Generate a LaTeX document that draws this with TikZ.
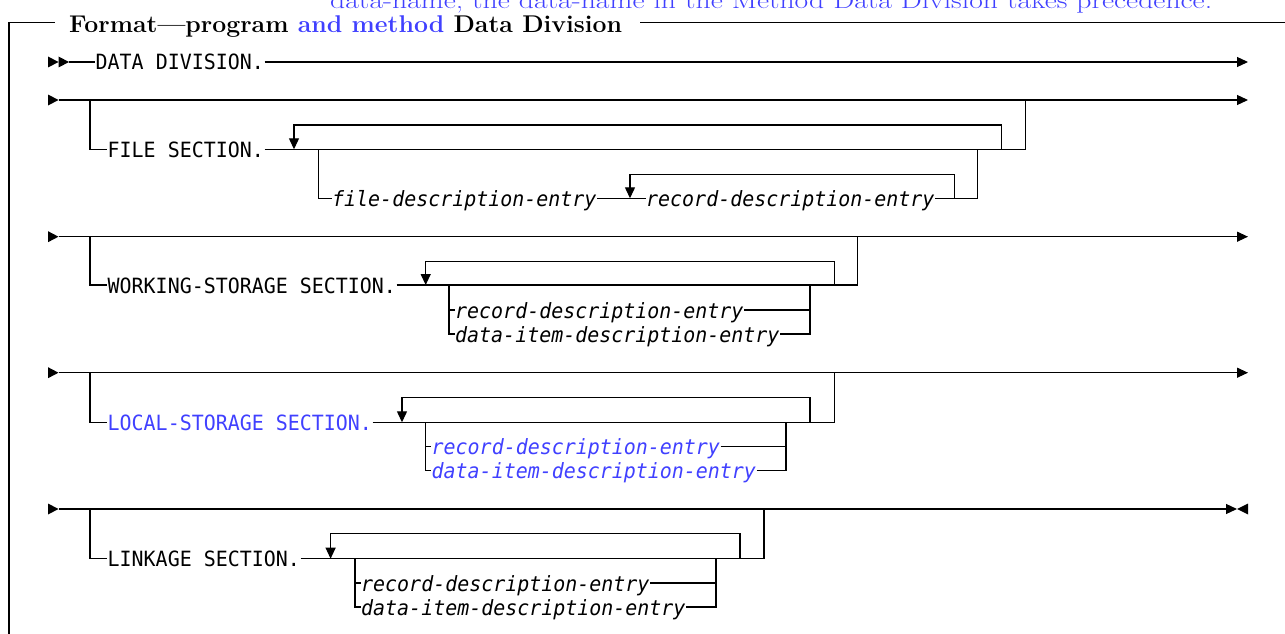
\documentclass[tikz,border=0pt]{standalone}
\usepackage{fontspec}
\usepackage{graphicx}
\newfontfamily\cmono[FakeStretch=0.95]{DejaVu Sans Mono}
\usetikzlibrary{arrows.meta}
\definecolor{ibmblue}{RGB}{64,64,255}
\tikzset{
  rail/.style={line width=1.2pt, line join=miter},
  arr/.style={rail, -{Triangle[length=11pt,width=10pt]}},
  darr/.style={rail, -{Triangle[length=11pt,width=10pt]}},
  kw/.style={font=\cmono\fontsize{21}{25}\selectfont, inner xsep=0.5pt, inner ysep=0pt,
             text height=16pt, text depth=0pt, anchor=west},
  var/.style={kw, font=\cmono\itshape\fontsize{21}{25}\selectfont},
  blue/.style={text=ibmblue},
  frame/.style={line width=1.5pt},
  tri/.pic={\fill (0,-5.5) -- (10.5,0) -- (0,5.5) -- cycle;},
  ltri/.pic={\fill (0,-5.5) -- (-11,0) -- (0,5.5) -- cycle;},
}
\begin{document}
\begin{tikzpicture}[x=1pt,y=-1pt]
\useasboundingbox (0,0) rectangle (1285,634);
\begin{scope}
  \clip (0,0) rectangle (1285,634);
  \node[anchor=base west, inner sep=0, font=\fontsize{24}{28}\selectfont, text=ibmblue] (prev) at (330,8.5)
    {\resizebox{882pt}{\height}{data-name, the data-name in the Method Data Division takes precedence.}};
\end{scope}
% title and frame
\node[anchor=base west, inner sep=0, font=\bfseries\fontsize{24.2}{28}\selectfont] (ttl) at (69,32.5)
  {\resizebox{553pt}{\height}{Format—program \textcolor{ibmblue}{and method} Data Division}};
\coordinate (fbl) at (9,636);
\coordinate (ftl) at (9,22.7);
\coordinate (fa) at (55,22.7);
\coordinate (fb) at (640,22.7);
\coordinate (fr) at (1286,22.7);
\draw[frame] (fbl) -- (ftl) -- (fa);
\draw[frame] (fb) -- (fr);
% ---------- row 1
\pic at (48,62) {tri};
\pic at (58.5,62) {tri};
\coordinate (r1a) at (69,62);
\coordinate (r1z) at (1248,62);
\node[kw] (dd) at (95,62) {DATA DIVISION.};
\draw[rail] (r1a) -- (dd.west);
\draw[arr] (dd.east) -- (r1z);
% ---------- row 2 : FILE SECTION
\pic at (48,100) {tri};
\coordinate (r2a) at (59,100);
\coordinate (r2b) at (90,100);
\coordinate (r2c) at (1025.8,100);
\coordinate (r2z) at (1248,100);
\draw[arr] (r2a) -- (r2z);
\node[kw] (fs) at (107,149.3) {FILE SECTION.};
\draw[rail] (r2b) |- (fs.west);
\coordinate (f2a) at (294,149.3);
\coordinate (f2t) at (294,125);
\coordinate (f2b) at (318.4,149.3);
\coordinate (f2c) at (977.7,149.3);
\coordinate (f2d) at (1001.7,149.3);
\coordinate (f2e) at (1025.8,149.3);
\draw[rail] (fs.east) -- (f2e) -- (r2c);
\draw[darr] (f2d) |- (f2t) -- (f2a);
\node[var] (fde) at (331.5,198.3) {file-description-entry};
\node[var] (rde) at (645.5,198.3) {record-description-entry};
\coordinate (g2a) at (630,198.3);
\coordinate (g2t) at (630,174.3);
\coordinate (g2r) at (954.6,198.3);
\draw[rail] (f2b) |- (fde.west);
\draw[rail] (fde.east) -- (rde.west);
\draw[rail] (rde.east) -| (f2c);
\draw[darr] (g2r) |- (g2t) -- (g2a);
% ---------- row 3 : WORKING-STORAGE
\pic at (48,236.7) {tri};
\coordinate (r3a) at (59,236.7);
\coordinate (r3b) at (90,236.7);
\coordinate (r3c) at (857.7,236.7);
\coordinate (r3z) at (1248,236.7);
\draw[arr] (r3a) -- (r3z);
\node[kw] (ws) at (107,285) {WORKING-STORAGE SECTION.};
\draw[rail] (r3b) |- (ws.west);
\coordinate (w3a) at (425.7,285);
\coordinate (w3t) at (425.7,261.7);
\coordinate (w3b) at (449,285);
\coordinate (w3c) at (810,285);
\coordinate (w3d) at (834.3,285);
\coordinate (w3e) at (857.7,285);
\draw[rail] (ws.east) -- (w3e) -- (r3c);
\draw[darr] (w3d) |- (w3t) -- (w3a);
\node[var] (wr) at (454.5,310) {record-description-entry};
\node[var] (wd) at (454.5,334) {data-item-description-entry};
\draw[rail] (w3b) |- (wd.west);
\draw[rail] (wr.west -| w3b) -- (wr.west);
\draw[rail] (wd.east) -| (w3c);
\draw[rail] (wr.east) -- (wr.east -| w3c);
% ---------- row 4 : LOCAL-STORAGE
\pic at (48,372.7) {tri};
\coordinate (r4a) at (59,372.7);
\coordinate (r4b) at (90,372.7);
\coordinate (r4c) at (834.3,372.7);
\coordinate (r4z) at (1248,372.7);
\draw[arr] (r4a) -- (r4z);
\node[kw, blue] (ls) at (107,422.3) {LOCAL-STORAGE SECTION.};
\draw[rail] (r4b) |- (ls.west);
\coordinate (l4a) at (402,422.3);
\coordinate (l4t) at (402,397.3);
\coordinate (l4b) at (425.7,422.3);
\coordinate (l4c) at (786,422.3);
\coordinate (l4d) at (810,422.3);
\coordinate (l4e) at (834.3,422.3);
\draw[rail] (ls.east) -- (l4e) -- (r4c);
\draw[darr] (l4d) |- (l4t) -- (l4a);
\node[var, blue] (lr) at (431,446.5) {record-description-entry};
\node[var, blue] (ld) at (431,470.5) {data-item-description-entry};
\draw[rail] (l4b) |- (ld.west);
\draw[rail] (lr.west -| l4b) -- (lr.west);
\draw[rail] (ld.east) -| (l4c);
\draw[rail] (lr.east) -- (lr.east -| l4c);
% ---------- row 5 : LINKAGE
\pic at (48,509) {tri};
\coordinate (r5a) at (59,509);
\coordinate (r5b) at (90,509);
\coordinate (r5c) at (764,509);
\coordinate (r5z) at (1237,509);
\draw[arr] (r5a) -- (r5z);
\pic at (1248,509) {ltri};
\node[kw] (lk) at (107,558.7) {LINKAGE SECTION.};
\draw[rail] (r5b) |- (lk.west);
\coordinate (k5a) at (330.6,558.7);
\coordinate (k5t) at (330.6,533.5);
\coordinate (k5b) at (355,558.7);
\coordinate (k5c) at (716,558.7);
\coordinate (k5d) at (740,558.7);
\coordinate (k5e) at (764,558.7);
\draw[rail] (lk.east) -- (k5e) -- (r5c);
\draw[darr] (k5d) |- (k5t) -- (k5a);
\node[var] (kr) at (360.5,583) {record-description-entry};
\node[var] (kd) at (360.5,607) {data-item-description-entry};
\draw[rail] (k5b) |- (kd.west);
\draw[rail] (kr.west -| k5b) -- (kr.west);
\draw[rail] (kd.east) -| (k5c);
\draw[rail] (kr.east) -- (kr.east -| k5c);
\end{tikzpicture}
\end{document}
